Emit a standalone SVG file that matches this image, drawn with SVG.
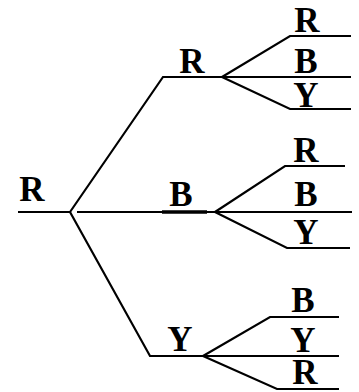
<svg xmlns="http://www.w3.org/2000/svg" width="359" height="392" viewBox="0 0 359 392">
  <style>
    .lbl { font-family: "Liberation Serif", "Times New Roman", serif; font-weight: bold; font-size: 35px; fill: #000; text-anchor: middle; }
    .edge { fill: none; stroke: #000; stroke-width: 2.2; stroke-linejoin: miter; }
    .heavy { stroke-width: 3.5; }
  </style>
  <rect width="359" height="392" fill="#fff"/>

  <!-- branches of the probability tree -->
  <g id="connectors">
    <!-- root stem -->
    <path class="edge" d="M18 212 H70"/>
    <!-- first draw -->
    <path class="edge" d="M70 212 L163 77 H222"/>
    <path class="edge" d="M77 212 H215"/>
    <path class="edge heavy" d="M162 212 H207"/>
    <path class="edge" d="M70 212 L150 356 H203"/>
    <!-- second draw after R -->
    <path class="edge" d="M222 77 L290 36 H351"/>
    <path class="edge" d="M222 77 H351"/>
    <path class="edge" d="M222 77 L290 109 H351"/>
    <!-- second draw after B -->
    <path class="edge" d="M215 212 L285 166 H345"/>
    <path class="edge" d="M215 212 H352"/>
    <path class="edge" d="M215 212 L287 248 H350"/>
    <!-- second draw after Y -->
    <path class="edge" d="M203 356 L270 317 H339"/>
    <path class="edge" d="M203 356 H339"/>
    <path class="edge" d="M203 356 L277 389 H339"/>
  </g>

  <g id="root"><text class="lbl" x="32" y="201">R</text></g>

  <g id="n-R"><text class="lbl" x="192" y="73">R</text></g>
  <g id="n-B"><text class="lbl" x="181" y="206">B</text></g>
  <g id="n-Y"><text class="lbl" x="180" y="351">Y</text></g>

  <g id="n-RR"><text class="lbl" x="307" y="32">R</text></g>
  <g id="n-RB"><text class="lbl" x="306" y="73">B</text></g>
  <g id="n-RY"><text class="lbl" x="306" y="107">Y</text></g>

  <g id="n-BR"><text class="lbl" x="306" y="162">R</text></g>
  <g id="n-BB"><text class="lbl" x="306" y="206">B</text></g>
  <g id="n-BY"><text class="lbl" x="306" y="244">Y</text></g>

  <g id="n-YB"><text class="lbl" x="303" y="312">B</text></g>
  <g id="n-YY"><text class="lbl" x="303" y="352">Y</text></g>
  <g id="n-YR"><text class="lbl" x="305" y="384">R</text></g>
</svg>
